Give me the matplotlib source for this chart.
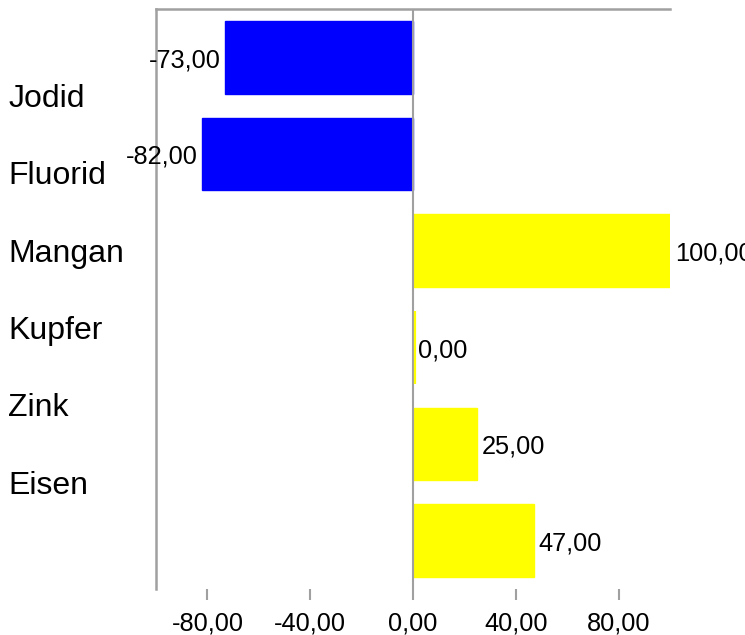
import matplotlib
matplotlib.use("Agg")
import matplotlib.pyplot as plt
import matplotlib.transforms as mtransforms
import numpy as np

plt.rcParams['font.family'] = ['Liberation Sans', 'DejaVu Sans']

# Data
categories = ["Jodid", "Fluorid", "Mangan", "Kupfer", "Zink", "Eisen"]
values = [-73.0, -82.0, 100.0, 0.0, 25.0, 47.0]
x_ticks = [-80, -40, 0, 40, 80]

NEG_COLOR = "#0000FF"
POS_COLOR = "#FFFF00"
AXIS_GRAY = "#A0A0A0"
VALUE_SIZE = 18.3
LABEL_SIZE = 23


def fmt(v):
    return f"{v:.2f}".replace(".", ",")


fig = plt.figure(figsize=(7.45, 6.35), dpi=100)
ax = fig.add_axes([0.2094, 0.0724, 0.6899, 0.9134])

pos = np.arange(len(values))
colors = [NEG_COLOR if v < 0 else POS_COLOR for v in values]
bars = ax.barh(pos, values, height=0.75, color=colors, edgecolor=colors,
               linewidth=1.0, zorder=2)

# zero-valued bars get a thin stroke just right of the baseline
for b, v in zip(bars, values):
    if v == 0:
        b.set_linewidth(1.6)
        b.set_transform(mtransforms.offset_copy(ax.transData, fig=fig,
                                                x=2.2, units="dots"))
        b.set_zorder(4)

ax.set_xlim(-100, 100)
ax.set_ylim(len(values) - 0.5, -0.5)

# zero line
ax.axvline(0, color=AXIS_GRAY, linewidth=1.5, zorder=3)

# spines
for side in ("right", "bottom"):
    ax.spines[side].set_visible(False)
for side in ("left", "top"):
    ax.spines[side].set_color(AXIS_GRAY)
    ax.spines[side].set_linewidth(1.8)

ax.set_xticks(x_ticks)
ax.set_xticklabels([fmt(t) for t in x_ticks], fontsize=VALUE_SIZE)
ax.tick_params(axis="x", length=8, width=1.5, color=AXIS_GRAY, pad=8)
ax.set_yticks([])

# value labels
for p, v in zip(pos, values):
    if v < 0:
        ax.annotate(fmt(v), (v, p), xytext=(-3, -2), textcoords="offset points",
                    ha="right", va="center", fontsize=VALUE_SIZE, zorder=5)
    else:
        ax.annotate(fmt(v), (v, p), xytext=(3.5, -2), textcoords="offset points",
                    ha="left", va="center", fontsize=VALUE_SIZE, zorder=5,
                    annotation_clip=False)

# category labels, left-aligned at the figure edge
trans = mtransforms.blended_transform_factory(fig.transFigure, ax.transData)
for i, name in enumerate(categories):
    ax.text(0.011, 0.43 + 0.8 * i, name, transform=trans, ha="left",
            va="center", fontsize=LABEL_SIZE, clip_on=False)

fig.savefig("out.png", dpi=100)
